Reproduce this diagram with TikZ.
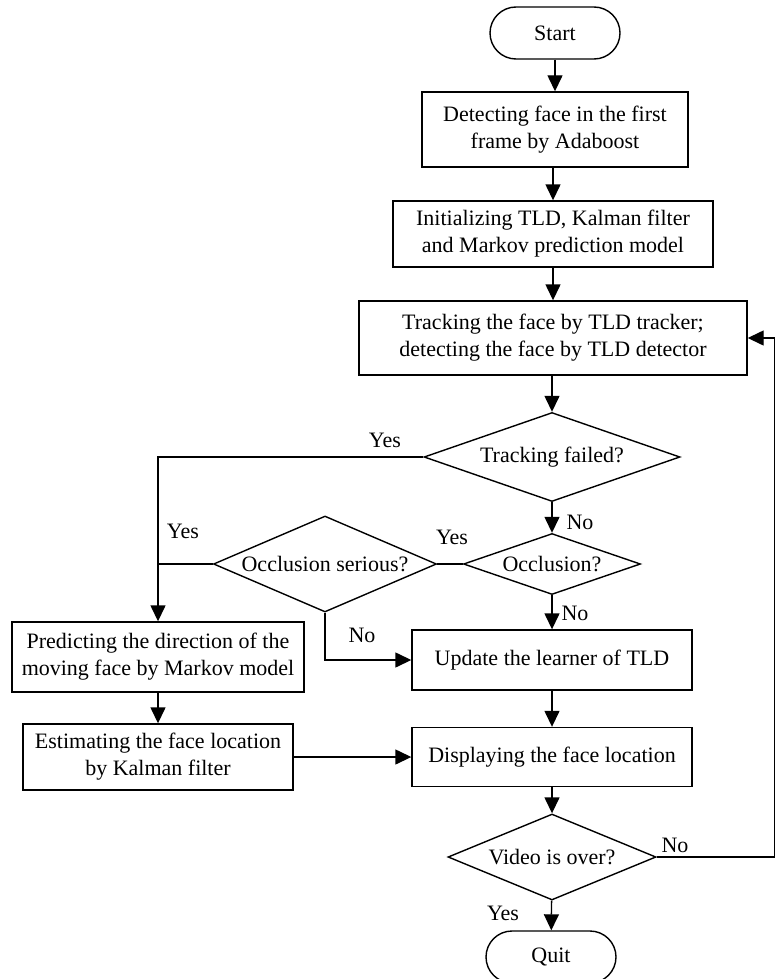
\documentclass[tikz,border=0pt]{standalone}
\usepackage{fontspec}
\setmainfont{Liberation Serif}
\usetikzlibrary{shapes.geometric,shapes.misc,arrows.meta}
\begin{document}
\begin{tikzpicture}[x=1pt,y=-1pt,
  every node/.style={font=\fontsize{22}{27}\selectfont},
  proc/.style={draw,line width=1.4pt,rectangle,inner sep=0pt,align=center},
  term/.style={draw,line width=1.4pt,rounded rectangle,inner sep=0pt,minimum width=130pt,minimum height=52pt},
  dec/.style={draw,line width=1.4pt,diamond,inner sep=0pt},
  lbl/.style={inner sep=0pt},
  conn/.style={line width=1.4pt},
  arr/.style={conn,-{Triangle[length=16pt,width=15pt]}}]
\useasboundingbox (0,0) rectangle (776,979);
\node[term] (start) at (555,33) {Start};
\node[proc,minimum width=266pt,minimum height=75pt] (b1) at (555,129.5) {Detecting face in the first\\frame by Adaboost};
\node[proc,minimum width=320pt,minimum height=66pt] (b2) at (553,234) {Initializing TLD, Kalman filter\\and Markov prediction model};
\node[proc,minimum width=388pt,minimum height=74pt] (b3) at (553,338) {Tracking the face by TLD tracker;\\detecting the face by TLD detector};
\node[dec,minimum width=256pt,minimum height=89pt,aspect=2.88] (track) at (552,457) {Tracking failed?};
\node[dec,minimum width=177pt,minimum height=61pt,aspect=2.9] (occl) at (552,564) {Occlusion?};
\node[dec,minimum width=223pt,minimum height=96pt,aspect=2.32] (ser) at (325,564) {Occlusion serious?};
\node[proc,minimum width=292pt,minimum height=70pt] (b4) at (158,657) {Predicting the direction of the\\moving face by Markov model};
\node[proc,minimum width=280pt,minimum height=60pt] (b5) at (552,660) {Update the learner of TLD};
\node[proc,minimum width=270pt,minimum height=66pt] (b6) at (158,757) {Estimating the face location\\by Kalman filter};
\node[proc,minimum width=280pt,minimum height=59pt] (b7) at (552,757) {Displaying the face location};
\node[dec,minimum width=208pt,minimum height=86pt,aspect=2.42] (video) at (552,857) {Video is over?};
\node[term] (quit) at (551,957) {Quit};
\coordinate (rb) at (774.5,857);
\coordinate (rt) at (774.5,338);
% labels
\node[lbl] (l1) at (385,440) {Yes};
\node[lbl] (l2) at (580,522) {No};
\node[lbl] (l3) at (183,531) {Yes};
\node[lbl] (l4) at (452,537) {Yes};
\node[lbl] (l5) at (575,613) {No};
\node[lbl] (l6) at (362,635) {No};
\node[lbl] (l7) at (675,845) {No};
\node[lbl] (l8) at (503,913) {Yes};
% connectors
\draw[arr] (start.south -| b1.north) -- (b1.north);
\draw[arr] (b1.south -| b2.north) -- (b2.north);
\draw[arr] (b2) -- (b3);
\draw[arr] (track.north |- b3.south) -- (track.north);
\draw[arr] (track.west) -| (b4.north);
\draw[arr] (track.south) -- (occl.north);
\draw[conn] (occl.west) -- (ser.east);
\draw[conn] (ser.west) -- (ser.west -| b4.north);
\draw[arr] (ser.south) |- (b5.west);
\draw[arr] (occl.south) -- (b5.north);
\draw[arr] (b4) -- (b6);
\draw[arr] (b6) -- (b7);
\draw[arr] (b5) -- (b7);
\draw[arr] (b7) -- (video);
\draw[arr] (video) -- (quit);
\draw[arr] (video.east) -- (rb) -- (rt) -- (b3.east);
\end{tikzpicture}
\end{document}
